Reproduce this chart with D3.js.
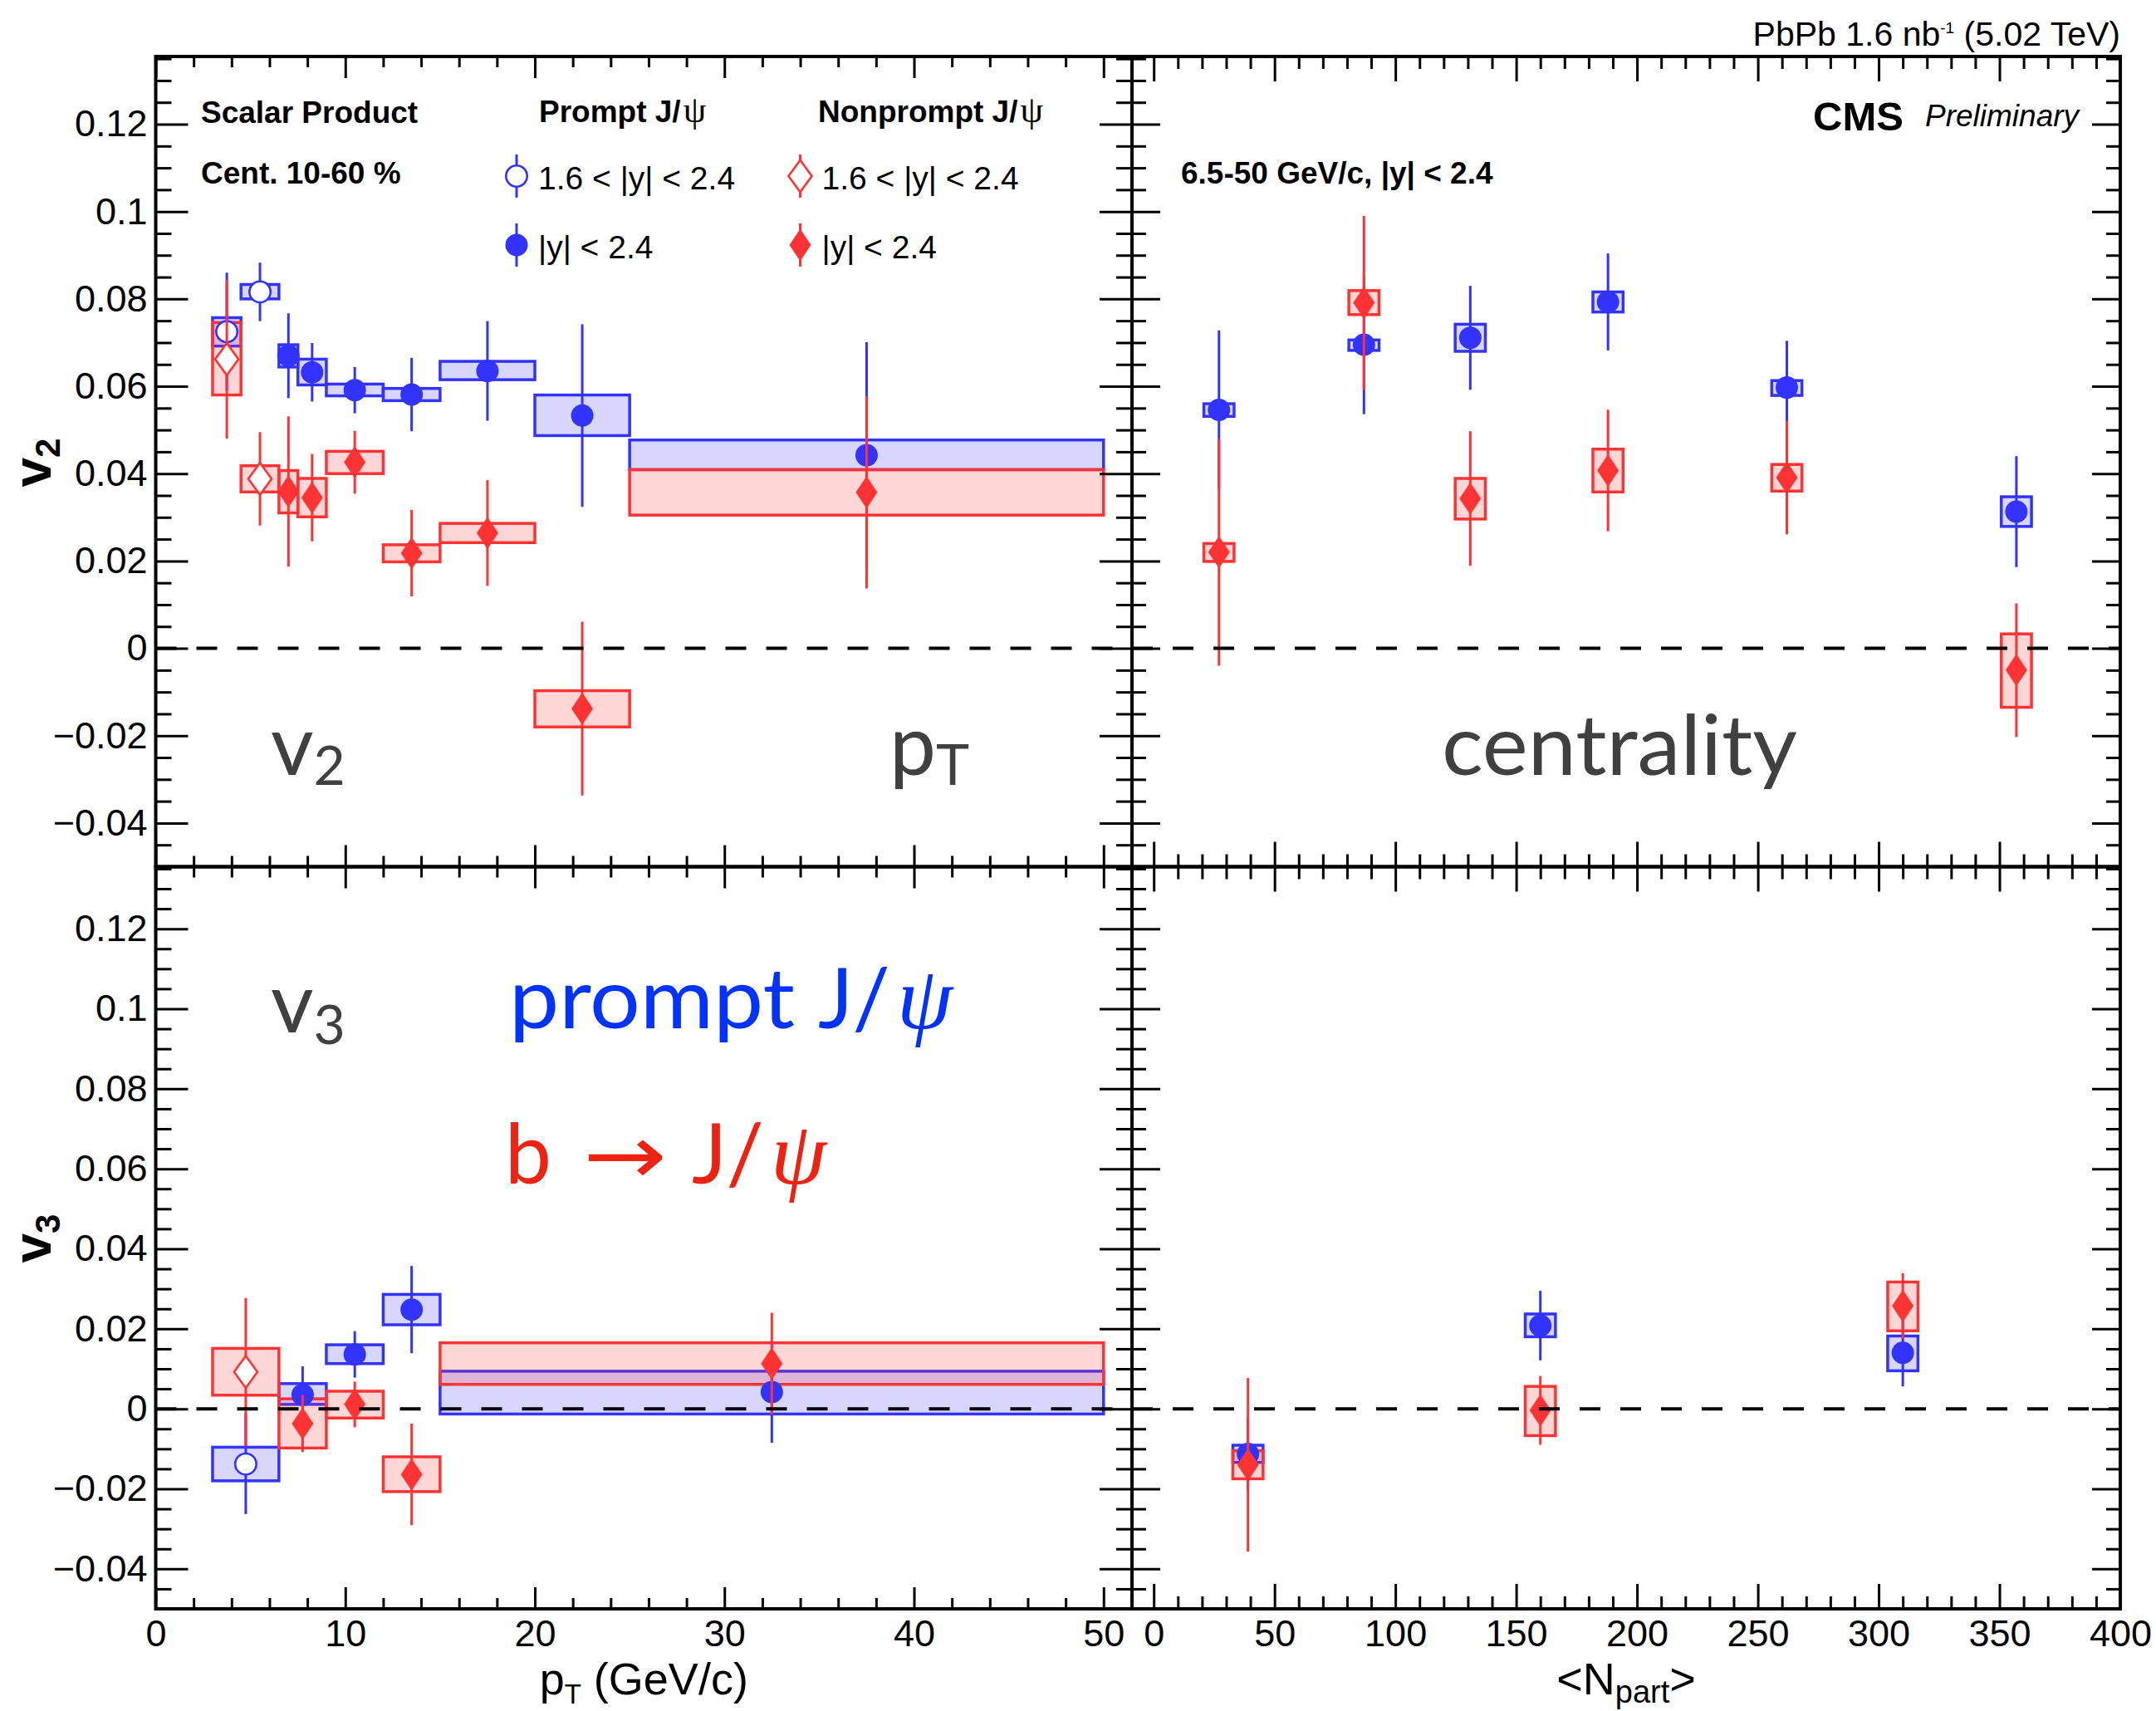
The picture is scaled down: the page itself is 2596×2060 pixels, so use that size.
<!DOCTYPE html>
<html><head><meta charset="utf-8">
<script src="https://cdn.jsdelivr.net/npm/d3@7"></script>
<style>body{margin:0;background:#fff;}svg{display:block;}</style>
</head><body>
<svg id="c" width="2596" height="2060"></svg>
<script>
// ---------------- DATA ----------------
// v2 vs pT : forward rapidity (1.6<|y|<2.4)
const ptFwdLoV2 = [3, 4.5];
const ptFwdHiV2 = [4.5, 6.5];
const ptFwdV2 = [3.75, 5.5];
const v2PromptFwd = [0.0725, 0.0816];
const v2PromptFwdStat = [0.0135, 0.0067];
const v2PromptFwdSysLo = [0.0692, 0.0800];
const v2PromptFwdSysHi = [0.0757, 0.0833];
const v2NonpFwd = [0.0662, 0.0388];
const v2NonpFwdStat = [0.0182, 0.0107];
const v2NonpFwdSysLo = [0.0580, 0.0358];
const v2NonpFwdSysHi = [0.0746, 0.0418];
// v2 vs pT : |y|<2.4
const ptMidLoV2 = [6.5, 7.5, 9, 12, 15, 20, 25];
const ptMidHiV2 = [7.5, 9, 12, 15, 20, 25, 50];
const ptMidV2 = [7, 8.25, 10.5, 13.5, 17.5, 22.5, 37.5];
const v2PromptMid = [0.0670, 0.0632, 0.0591, 0.0581, 0.0635, 0.0533, 0.0442];
const v2PromptMidStat = [0.0097, 0.0067, 0.0053, 0.0084, 0.0114, 0.0209, 0.0259];
const v2PromptMidSysLo = [0.0644, 0.0603, 0.0578, 0.0567, 0.0615, 0.0487, 0.0409];
const v2PromptMidSysHi = [0.0695, 0.0662, 0.0605, 0.0595, 0.0657, 0.0580, 0.0477];
const v2NonpMid = [0.0359, 0.0345, 0.0426, 0.0218, 0.0264, -0.0138, 0.0357];
const v2NonpMidStat = [0.0172, 0.0100, 0.0072, 0.0099, 0.0121, 0.0199, 0.0220];
const v2NonpMidSysLo = [0.0310, 0.0301, 0.0400, 0.0198, 0.0242, -0.0180, 0.0305];
const v2NonpMidSysHi = [0.0407, 0.0389, 0.0451, 0.0237, 0.0286, -0.0097, 0.0409];
// v2 vs Npart
const npartV2 = [27, 87, 131, 188, 262, 357];
const v2PromptNp = [0.0546, 0.0695, 0.0711, 0.0793, 0.0597, 0.0313];
const v2PromptNpStat = [0.0182, 0.0159, 0.0119, 0.0111, 0.0107, 0.0127];
const v2PromptNpSysLo = [0.0531, 0.0682, 0.0680, 0.0770, 0.0579, 0.0279];
const v2PromptNpSysHi = [0.0560, 0.0706, 0.0742, 0.0816, 0.0613, 0.0347];
const v2NonpNp = [0.0220, 0.0791, 0.0343, 0.0407, 0.0391, -0.0050];
const v2NonpNpStat = [0.0260, 0.0199, 0.0154, 0.0139, 0.0130, 0.0153];
const v2NonpNpSysLo = [0.0199, 0.0764, 0.0296, 0.0358, 0.0360, -0.0135];
const v2NonpNpSysHi = [0.0240, 0.0819, 0.0389, 0.0456, 0.0421, 0.0033];
// v3 vs pT : forward
const ptFwdLoV3 = [3];
const ptFwdHiV3 = [6.5];
const ptFwdV3 = [4.75];
const v3PromptFwd = [-0.0138];
const v3PromptFwdStat = [0.0125];
const v3PromptFwdSysLo = [-0.0180];
const v3PromptFwdSysHi = [-0.0096];
const v3NonpFwd = [0.0092];
const v3NonpFwdStat = [0.0185];
const v3NonpFwdSysLo = [0.0034];
const v3NonpFwdSysHi = [0.0151];
// v3 vs pT : |y|<2.4
const ptMidLoV3 = [6.5, 9, 12, 15];
const ptMidHiV3 = [9, 12, 15, 50];
const ptMidV3 = [7.75, 10.5, 13.5, 32.5];
const v3PromptMid = [0.0035, 0.0136, 0.0248, 0.0042];
const v3PromptMidStat = [0.0071, 0.0058, 0.0109, 0.0127];
const v3PromptMidSysLo = [0.0011, 0.0113, 0.0210, -0.0013];
const v3PromptMidSysHi = [0.0063, 0.0160, 0.0286, 0.0094];
const v3NonpMid = [-0.0037, 0.0011, -0.0164, 0.0113];
const v3NonpMidStat = [0.0071, 0.0057, 0.0127, 0.0127];
const v3NonpMidSysLo = [-0.0098, -0.0023, -0.0207, 0.0061];
const v3NonpMidSysHi = [0.0025, 0.0044, -0.0120, 0.0165];
// v3 vs Npart
const npartV3 = [39, 160, 310];
const v3PromptNp = [-0.0113, 0.0208, 0.0140];
const v3PromptNpStat = [0.0090, 0.0087, 0.0084];
const v3PromptNpSysLo = [-0.0134, 0.0180, 0.0095];
const v3PromptNpSysHi = [-0.0091, 0.0237, 0.0182];
const v3NonpNp = [-0.0140, -0.0004, 0.0257];
const v3NonpNpStat = [0.0217, 0.0086, 0.0082];
const v3NonpNpSysLo = [-0.0175, -0.0067, 0.0195];
const v3NonpNpSysHi = [-0.0105, 0.0056, 0.0317];
const npartHalfWidth = 6.25;

// tick labels
const yMajorTicks = [-0.04, -0.02, 0, 0.02, 0.04, 0.06, 0.08, 0.1, 0.12];
const yTickLabels = ["\u22120.04", "\u22120.02", "0", "0.02", "0.04", "0.06", "0.08", "0.1", "0.12"];
const ptMajorTicks = [0, 10, 20, 30, 40, 50];
const npMajorTicks = [0, 50, 100, 150, 200, 250, 300, 350, 400];

// ---------------- LAYOUT ----------------
const FONT = "'Liberation Sans', Arial, Helvetica, sans-serif";
const DECO = "Lato, 'Open Sans', sans-serif";
const BLUE = "#3333ff", RED = "#ff3333";
const BLUEFILL = "rgba(51,51,255,0.2)", REDFILL = "rgba(255,51,51,0.2)";
const X0 = 187.5, XM = 1363, X1 = 2553, Y0 = 68, YM = 1043.5, Y1 = 1937;

const svg = d3.select("#c");
svg.append("rect").attr("width", 2596).attr("height", 2060).attr("fill", "#fff");

const xPt = d3.scaleLinear().domain([0, 51.5]).range([X0, XM]);
const xNp = d3.scaleLinear().domain([-9, 400]).range([XM, X1]);
const yTop = d3.scaleLinear().domain([-0.05, 0.1355]).range([YM, Y0]);
const yBot = d3.scaleLinear().domain([-0.05, 0.1355]).range([Y1, YM]);

function circlePath(r) { const p = d3.path(); p.arc(0, 0, r, 0, 2 * Math.PI); p.closePath(); return p.toString(); }
function diamondPath(w, h) { const p = d3.path(); p.moveTo(0, -h); p.lineTo(w, 0); p.lineTo(0, h); p.lineTo(-w, 0); p.closePath(); return p.toString(); }

function boxes(g, sx, sy, xlo, xhi, lo, hi, col, fill) {
  g.append("g").selectAll("rect").data(d3.range(lo.length)).join("rect")
    .attr("x", i => sx(xlo[i])).attr("width", i => sx(xhi[i]) - sx(xlo[i]))
    .attr("y", i => sy(hi[i])).attr("height", i => sy(lo[i]) - sy(hi[i]))
    .attr("fill", fill).attr("stroke", col).attr("stroke-width", 3.5);
}
function errs(g, sx, sy, x, y, e, col) {
  g.append("g").selectAll("line").data(d3.range(y.length)).join("line")
    .attr("x1", i => sx(x[i])).attr("x2", i => sx(x[i]))
    .attr("y1", i => sy(y[i] + e[i])).attr("y2", i => sy(y[i] - e[i]))
    .attr("stroke", col).attr("stroke-width", 3);
}
function markers(g, sx, sy, x, y, shape, open, col) {
  const d = shape === "circle" ? circlePath(open ? 12.7 : 13.5) : (open ? diamondPath(14, 19.3) : diamondPath(13, 19.5));
  g.append("g").selectAll("path").data(d3.range(y.length)).join("path")
    .attr("d", d).attr("transform", i => `translate(${sx(x[i])},${sy(y[i])})`)
    .attr("fill", open ? "#fff" : col).attr("stroke", col).attr("stroke-width", open ? 2.6 : 0);
}
function zeroLine(g, sx, sy) {
  g.append("line").attr("x1", sx.range()[0]).attr("x2", sx.range()[1])
    .attr("y1", sy(0)).attr("y2", sy(0))
    .attr("stroke", "#000").attr("stroke-width", 4).attr("stroke-dasharray", "25 24");
}
function minorVals(lo, hi, step, majorStep) {
  const out = [];
  const n0 = Math.ceil(lo / step - 1e-9), n1 = Math.floor(hi / step + 1e-9);
  const k = Math.round(majorStep / step);
  for (let n = n0; n <= n1; n++) if (n % k !== 0) out.push(+(n * step).toFixed(6));
  return out;
}
function tickStyle(sel) {
  sel.select(".domain").remove();
  sel.selectAll(".tick line").attr("stroke", "#000").attr("stroke-width", 3);
  sel.selectAll("text").attr("font-family", FONT).attr("font-size", 45).attr("fill", "#000");
}

function panelAxes(sx, sy, xMajor, xMinorStep, xMajorStep, xMaj, xMin, yMaj, yMin, leftLabels, bottomLabels) {
  const yMinor = minorVals(-0.05, 0.1355, 0.005, 0.02);
  const xr = sx.range(), yr = sy.range();
  const xMinorV = minorVals(sx.domain()[0] < 0 ? 0 : sx.domain()[0], xMajor[xMajor.length - 1], xMinorStep, xMajorStep);
  const g = svg.append("g");
  const gb = g.append("g").attr("transform", `translate(0,${yr[0]})`);
  gb.append("g").call(d3.axisBottom(sx).tickValues(xMajor).tickSize(-xMaj).tickPadding(13)
    .tickFormat(bottomLabels ? d3.format("d") : () => "")).call(tickStyle);
  gb.append("g").call(d3.axisBottom(sx).tickValues(xMinorV).tickSize(-xMin).tickFormat(() => "")).call(tickStyle);
  const gt = g.append("g").attr("transform", `translate(0,${yr[1]})`);
  gt.append("g").call(d3.axisTop(sx).tickValues(xMajor).tickSize(-xMaj).tickFormat(() => "")).call(tickStyle);
  gt.append("g").call(d3.axisTop(sx).tickValues(xMinorV).tickSize(-xMin).tickFormat(() => "")).call(tickStyle);
  const gl = g.append("g").attr("transform", `translate(${xr[0]},0)`);
  gl.append("g").call(d3.axisLeft(sy).tickValues(yMajorTicks).tickSize(-yMaj).tickPadding(10)
    .tickFormat(leftLabels ? ((d, i) => yTickLabels[i]) : () => "")).call(tickStyle);
  gl.append("g").call(d3.axisLeft(sy).tickValues(yMinor).tickSize(-yMin).tickFormat(() => "")).call(tickStyle);
  const gr = g.append("g").attr("transform", `translate(${xr[1]},0)`);
  gr.append("g").call(d3.axisRight(sy).tickValues(yMajorTicks).tickSize(-yMaj).tickFormat(() => "")).call(tickStyle);
  gr.append("g").call(d3.axisRight(sy).tickValues(yMinor).tickSize(-yMin).tickFormat(() => "")).call(tickStyle);
  g.append("rect").attr("x", xr[0]).attr("y", yr[1]).attr("width", xr[1] - xr[0]).attr("height", yr[0] - yr[1])
    .attr("fill", "none").attr("stroke", "#000").attr("stroke-width", 4);
}

// ---------------- PANELS ----------------
const nLo = a => a.map(v => v - npartHalfWidth);
const nHi = a => a.map(v => v + npartHalfWidth);

{
  const g = svg.append("g");
  boxes(g, xPt, yTop, ptFwdLoV2, ptFwdHiV2, v2PromptFwdSysLo, v2PromptFwdSysHi, BLUE, BLUEFILL);
  boxes(g, xPt, yTop, ptMidLoV2, ptMidHiV2, v2PromptMidSysLo, v2PromptMidSysHi, BLUE, BLUEFILL);
  boxes(g, xPt, yTop, ptFwdLoV2, ptFwdHiV2, v2NonpFwdSysLo, v2NonpFwdSysHi, RED, REDFILL);
  boxes(g, xPt, yTop, ptMidLoV2, ptMidHiV2, v2NonpMidSysLo, v2NonpMidSysHi, RED, REDFILL);
  errs(g, xPt, yTop, ptFwdV2, v2PromptFwd, v2PromptFwdStat, BLUE);
  errs(g, xPt, yTop, ptMidV2, v2PromptMid, v2PromptMidStat, BLUE);
  markers(g, xPt, yTop, ptFwdV2, v2PromptFwd, "circle", true, BLUE);
  markers(g, xPt, yTop, ptMidV2, v2PromptMid, "circle", false, BLUE);
  errs(g, xPt, yTop, ptFwdV2, v2NonpFwd, v2NonpFwdStat, RED);
  errs(g, xPt, yTop, ptMidV2, v2NonpMid, v2NonpMidStat, RED);
  markers(g, xPt, yTop, ptFwdV2, v2NonpFwd, "diamond", true, RED);
  markers(g, xPt, yTop, ptMidV2, v2NonpMid, "diamond", false, RED);
  zeroLine(g, xPt, yTop);
}
{
  const g = svg.append("g");
  boxes(g, xNp, yTop, nLo(npartV2), nHi(npartV2), v2PromptNpSysLo, v2PromptNpSysHi, BLUE, BLUEFILL);
  boxes(g, xNp, yTop, nLo(npartV2), nHi(npartV2), v2NonpNpSysLo, v2NonpNpSysHi, RED, REDFILL);
  errs(g, xNp, yTop, npartV2, v2PromptNp, v2PromptNpStat, BLUE);
  markers(g, xNp, yTop, npartV2, v2PromptNp, "circle", false, BLUE);
  errs(g, xNp, yTop, npartV2, v2NonpNp, v2NonpNpStat, RED);
  markers(g, xNp, yTop, npartV2, v2NonpNp, "diamond", false, RED);
  zeroLine(g, xNp, yTop);
}
{
  const g = svg.append("g");
  boxes(g, xPt, yBot, ptFwdLoV3, ptFwdHiV3, v3PromptFwdSysLo, v3PromptFwdSysHi, BLUE, BLUEFILL);
  boxes(g, xPt, yBot, ptMidLoV3, ptMidHiV3, v3PromptMidSysLo, v3PromptMidSysHi, BLUE, BLUEFILL);
  boxes(g, xPt, yBot, ptFwdLoV3, ptFwdHiV3, v3NonpFwdSysLo, v3NonpFwdSysHi, RED, REDFILL);
  boxes(g, xPt, yBot, ptMidLoV3, ptMidHiV3, v3NonpMidSysLo, v3NonpMidSysHi, RED, REDFILL);
  errs(g, xPt, yBot, ptFwdV3, v3PromptFwd, v3PromptFwdStat, BLUE);
  errs(g, xPt, yBot, ptMidV3, v3PromptMid, v3PromptMidStat, BLUE);
  markers(g, xPt, yBot, ptFwdV3, v3PromptFwd, "circle", true, BLUE);
  markers(g, xPt, yBot, ptMidV3, v3PromptMid, "circle", false, BLUE);
  errs(g, xPt, yBot, ptFwdV3, v3NonpFwd, v3NonpFwdStat, RED);
  errs(g, xPt, yBot, ptMidV3, v3NonpMid, v3NonpMidStat, RED);
  markers(g, xPt, yBot, ptFwdV3, v3NonpFwd, "diamond", true, RED);
  markers(g, xPt, yBot, ptMidV3, v3NonpMid, "diamond", false, RED);
  zeroLine(g, xPt, yBot);
}
{
  const g = svg.append("g");
  boxes(g, xNp, yBot, nLo(npartV3), nHi(npartV3), v3PromptNpSysLo, v3PromptNpSysHi, BLUE, BLUEFILL);
  boxes(g, xNp, yBot, nLo(npartV3), nHi(npartV3), v3NonpNpSysLo, v3NonpNpSysHi, RED, REDFILL);
  errs(g, xNp, yBot, npartV3, v3PromptNp, v3PromptNpStat, BLUE);
  markers(g, xNp, yBot, npartV3, v3PromptNp, "circle", false, BLUE);
  errs(g, xNp, yBot, npartV3, v3NonpNp, v3NonpNpStat, RED);
  markers(g, xNp, yBot, npartV3, v3NonpNp, "diamond", false, RED);
  zeroLine(g, xNp, yBot);
}

panelAxes(xPt, yTop, ptMajorTicks, 2, 10, 26, 13, 39, 19, true, false);
panelAxes(xNp, yTop, npMajorTicks, 10, 50, 30, 15, 34, 17, false, false);
panelAxes(xPt, yBot, ptMajorTicks, 2, 10, 26, 13, 39, 19, true, true);
panelAxes(xNp, yBot, npMajorTicks, 10, 50, 30, 15, 34, 17, false, true);

// ---------------- TEXT ----------------
function txt(x, y, s, size, opt = {}) {
  return svg.append("text").attr("x", x).attr("y", y).text(s)
    .attr("font-family", opt.family || FONT).attr("font-size", size)
    .attr("font-weight", opt.weight || "normal").attr("font-style", opt.style || "normal")
    .attr("fill", opt.fill || "#000").attr("text-anchor", opt.anchor || "start");
}
{
  const t = svg.append("text").attr("x", X1).attr("y", 55).attr("text-anchor", "end")
    .attr("font-family", FONT).attr("font-size", 41);
  t.append("tspan").text("PbPb 1.6 nb");
  t.append("tspan").text("-1").attr("font-size", 19).attr("dy", -15);
  t.append("tspan").text(" (5.02 TeV)").attr("dy", 15);
}
txt(2183, 157, "CMS", 49, { weight: "bold" });
txt(2318, 152, "Preliminary", 37, { style: "italic" });
txt(1422, 221, "6.5-50 GeV/c, |y| < 2.4", 37, { weight: "bold" });
txt(242, 148, "Scalar Product", 37, { weight: "bold" });
txt(242, 221, "Cent. 10-60 %", 37, { weight: "bold" });
{
  const t1 = txt(649, 147, "Prompt J/", 37, { weight: "bold" });
  t1.append("tspan").text("\u03C8").attr("font-family", "'Liberation Serif', serif").attr("font-weight", "normal")
    .attr("font-size", 44).attr("dx", 3);
  const t2 = txt(985, 147, "Nonprompt J/", 37, { weight: "bold" });
  t2.append("tspan").text("\u03C8").attr("font-family", "'Liberation Serif', serif").attr("font-weight", "normal")
    .attr("font-size", 44).attr("dx", 3);
}
{
  const lg = svg.append("g");
  const rows = [
    { x: 622, y: 212, shape: "circle", open: true, col: BLUE, label: "1.6 < |y| < 2.4" },
    { x: 622, y: 295, shape: "circle", open: false, col: BLUE, label: "|y| < 2.4" },
    { x: 963.5, y: 212, shape: "diamond", open: true, col: RED, label: "1.6 < |y| < 2.4" },
    { x: 963.5, y: 295, shape: "diamond", open: false, col: RED, label: "|y| < 2.4" }
  ];
  rows.forEach(r => {
    lg.append("line").attr("x1", r.x).attr("x2", r.x).attr("y1", r.y - 26).attr("y2", r.y + 26)
      .attr("stroke", r.col).attr("stroke-width", 3);
    const d = r.shape === "circle" ? circlePath(r.open ? 12.7 : 13.5) : (r.open ? diamondPath(14, 19.3) : diamondPath(13, 19.5));
    lg.append("path").attr("d", d).attr("transform", `translate(${r.x},${r.y})`)
      .attr("fill", r.open ? "#fff" : r.col).attr("stroke", r.col).attr("stroke-width", r.open ? 2.6 : 0);
    txt(r.x + 26, r.y + 16, r.label, 39);
  });
}
// axis titles
{
  const t = svg.append("text").attr("transform", "translate(61,557) rotate(-90)").attr("text-anchor", "middle")
    .attr("font-family", FONT).attr("font-weight", "bold").attr("font-size", 64);
  t.append("tspan").text("v");
  t.append("tspan").text("2").attr("font-size", 42).attr("dy", 11);
  const t3 = svg.append("text").attr("transform", "translate(61,1491) rotate(-90)").attr("text-anchor", "middle")
    .attr("font-family", FONT).attr("font-weight", "bold").attr("font-size", 64);
  t3.append("tspan").text("v");
  t3.append("tspan").text("3").attr("font-size", 42).attr("dy", 11);
}
{
  const t = svg.append("text").attr("x", (X0 + XM) / 2).attr("y", 2040).attr("text-anchor", "middle")
    .attr("font-family", FONT).attr("font-size", 54);
  t.append("tspan").text("p");
  t.append("tspan").text("T").attr("font-size", 33).attr("dy", 11);
  t.append("tspan").text(" (GeV/c)").attr("dy", -11);
  const n = svg.append("text").attr("x", (XM + X1) / 2).attr("y", 2040).attr("text-anchor", "middle")
    .attr("font-family", FONT).attr("font-size", 54);
  n.append("tspan").text("<N");
  n.append("tspan").text("part").attr("font-size", 38).attr("dy", 10);
  n.append("tspan").text(">").attr("dy", -10);
}
// decorative large labels
{
  const GRAY = "#404040";
  const SERIF = "'Liberation Serif', serif";
  const a = txt(326, 933, "v", 100, { family: DECO, fill: GRAY });
  a.append("tspan").text("2").attr("font-size", 66).attr("dy", 12);
  const b = txt(1071, 933, "p", 100, { family: DECO, fill: GRAY });
  b.append("tspan").text("T").attr("font-size", 68).attr("dy", 12);
  txt(1736, 933, "centrality", 100, { family: DECO, fill: GRAY })
    .attr("textLength", 428).attr("lengthAdjust", "spacingAndGlyphs");
  const c = txt(326, 1243, "v", 100, { family: DECO, fill: GRAY });
  c.append("tspan").text("3").attr("font-size", 66).attr("dy", 14);

  const pg = svg.append("text").attr("y", 1238).attr("font-family", DECO).attr("font-size", 100).attr("fill", "#0033ff");
  pg.append("tspan").attr("x", 613).text("prompt").attr("textLength", 344).attr("lengthAdjust", "spacingAndGlyphs");
  pg.append("tspan").attr("x", 985).text("J/");
  pg.append("tspan").attr("x", 1080).text("\u03C8").attr("font-family", SERIF).attr("font-style", "italic").attr("font-size", 108);

  const rg = svg.append("text").attr("y", 1425).attr("font-family", DECO).attr("font-size", 100).attr("fill", "#ee2211");
  rg.append("tspan").attr("x", 608).text("b");
  rg.append("tspan").attr("x", 702).text("\u2192").attr("font-family", "'DejaVu Sans', sans-serif")
    .attr("textLength", 101).attr("lengthAdjust", "spacingAndGlyphs");
  rg.append("tspan").attr("x", 833).text("J/");
  rg.append("tspan").attr("x", 928).text("\u03C8").attr("font-family", SERIF).attr("font-style", "italic").attr("font-size", 108);
}
</script>
</body></html>
